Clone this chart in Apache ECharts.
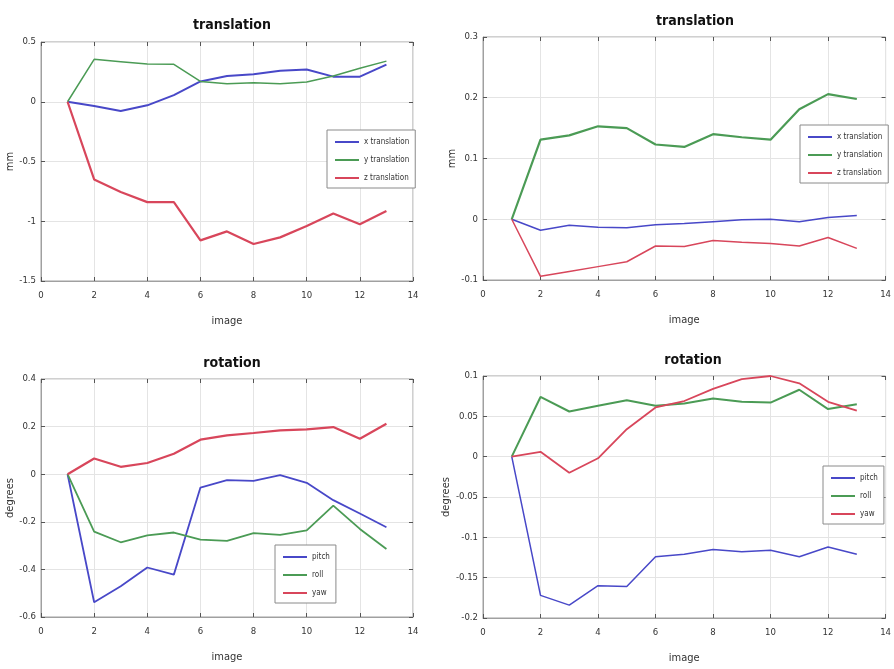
<!DOCTYPE html>
<html>
<head>
<meta charset="utf-8">
<script src="https://cdn.jsdelivr.net/npm/echarts@6/dist/echarts.min.js"></script>
<style>html,body{margin:0;padding:0;background:#fff;}#c{width:894px;height:669px;}</style>
</head>
<body>
<div id="c"></div>
<script>
const images = [1,2,3,4,5,6,7,8,9,10,11,12,13];
const xTicks = [0,2,4,6,8,10,12,14];

// Panel A (top-left): translation
const transA_x = [0,-0.036,-0.078,-0.03,0.056,0.17,0.215,0.23,0.26,0.27,0.21,0.21,0.31];
const transA_y = [0,0.355,0.335,0.315,0.313,0.17,0.15,0.16,0.15,0.165,0.215,0.28,0.34];
const transA_z = [0,-0.65,-0.755,-0.84,-0.84,-1.16,-1.085,-1.19,-1.135,-1.04,-0.935,-1.025,-0.915];

// Panel B (top-right): translation
const transB_x = [0,-0.018,-0.010,-0.013,-0.014,-0.009,-0.007,-0.004,-0.001,0,-0.004,0.003,0.006];
const transB_y = [0,0.131,0.138,0.153,0.150,0.123,0.119,0.140,0.135,0.131,0.181,0.206,0.198];
const transB_z = [0,-0.094,-0.086,-0.078,-0.070,-0.044,-0.045,-0.035,-0.038,-0.040,-0.044,-0.030,-0.048];

// Panel C (bottom-left): rotation
const rotC_pitch = [0,-0.538,-0.471,-0.392,-0.422,-0.056,-0.025,-0.028,-0.004,-0.036,-0.109,-0.165,-0.223];
const rotC_roll  = [0,-0.241,-0.286,-0.257,-0.245,-0.275,-0.28,-0.248,-0.255,-0.236,-0.132,-0.23,-0.314];
const rotC_yaw   = [0,0.066,0.031,0.047,0.086,0.145,0.163,0.173,0.184,0.188,0.198,0.149,0.212];

// Panel D (bottom-right): rotation
const rotD_pitch = [0,-0.172,-0.184,-0.160,-0.161,-0.124,-0.121,-0.115,-0.118,-0.116,-0.124,-0.112,-0.121];
const rotD_roll  = [0,0.074,0.056,0.063,0.070,0.063,0.066,0.072,0.068,0.067,0.083,0.059,0.065];
const rotD_yaw   = [0,0.006,-0.020,-0.002,0.034,0.061,0.069,0.084,0.096,0.100,0.091,0.068,0.057];

const transNames = ['x translation','y translation','z translation'];
const rotNames = ['pitch','roll','yaw'];
const yRanges = [[-1.5,0.5,0.5],[-0.1,0.3,0.1],[-0.6,0.4,0.2],[-0.2,0.1,0.05]];
const yNames = ['mm','mm','degrees','degrees'];
const titles = ['translation','translation','rotation','rotation'];

const BLUE='#4848c8', GREEN='#4b9b55', RED='#d8465b';
const FONT = "'DejaVu Sans Condensed','Liberation Sans Narrow','Liberation Sans',sans-serif";

const grids = [
  {left:41, top:42, width:372, height:239},
  {left:483, top:37, width:410, height:243},
  {left:41, top:379, width:372, height:238},
  {left:483, top:376, width:410, height:242}
];
const titlePos = [{left:227,top:13},{left:690,top:9},{left:227,top:351},{left:688,top:348}];
const legendPos = [
  {left:327, top:130},
  {left:800, top:125},
  {left:275, top:545},
  {left:823, top:466}
];
const yNameGaps = [20,22,20,22];

const pair = arr => images.map((x,i)=>[x,arr[i]]);

const panels = [
  {names:transNames, data:[transA_x,transA_y,transA_z], widths:[2,1.5,2.2]},
  {names:transNames, data:[transB_x,transB_y,transB_z], widths:[1.5,2.2,1.5]},
  {names:rotNames, data:[rotC_pitch,rotC_roll,rotC_yaw], widths:[1.8,1.8,2.2]},
  {names:rotNames, data:[rotD_pitch,rotD_roll,rotD_yaw], widths:[1.5,2,1.8]}
];
const colors=[BLUE,GREEN,RED];

const option = {
  backgroundColor:'#fff',
  animation:false,
  title: titles.map((t,i)=>({text:t, left:titlePos[i].left, top:titlePos[i].top, textAlign:'center',
    textStyle:{fontFamily:FONT, fontSize:14, fontWeight:'bold', color:'#111'}})),
  grid: grids.map(g=>Object.assign({show:true, borderColor:'#a0a0a0', borderWidth:1, backgroundColor:'#fff', containLabel:false}, g)),
  xAxis: [],
  yAxis: [],
  legend: [],
  series: []
};

for (let i=0;i<4;i++){
  const [ymin,ymax,yint] = yRanges[i];
  option.xAxis.push({
    type:'value', gridIndex:i, min:0, max:14, interval:2,
    name:'image', nameLocation:'middle', nameGap:35,
    nameTextStyle:{fontFamily:FONT, fontSize:11, color:'#333'},
    axisLine:{show:true, onZero:false, lineStyle:{color:'#a0a0a0'}},
    axisTick:{show:true, inside:true, length:4, lineStyle:{color:'#555'}},
    axisLabel:{fontFamily:FONT, fontSize:9.5, color:'#333', margin:10},
    splitLine:{show:true, lineStyle:{color:'#e4e4e4', width:1}}
  });
  option.xAxis.push({
    type:'value', gridIndex:i, min:0, max:14, interval:2, position:'top',
    axisLine:{show:false, onZero:false}, axisTick:{show:true, inside:true, length:4, lineStyle:{color:'#555'}},
    axisLabel:{show:false}, splitLine:{show:false}
  });
  option.yAxis.push({
    type:'value', gridIndex:i, min:ymin, max:ymax, interval:yint,
    name:yNames[i], nameLocation:'middle', nameGap:yNameGaps[i], nameRotate:90,
    nameTextStyle:{fontFamily:FONT, fontSize:11, color:'#333'},
    axisLine:{show:true, onZero:false, lineStyle:{color:'#a0a0a0'}},
    axisTick:{show:true, inside:true, length:4, lineStyle:{color:'#555'}},
    axisLabel:{fontFamily:FONT, fontSize:9.5, color:'#333', margin:5},
    splitLine:{show:true, lineStyle:{color:'#e4e4e4', width:1}}
  });
  option.yAxis.push({
    type:'value', gridIndex:i, min:ymin, max:ymax, interval:yint, position:'right',
    axisLine:{show:false, onZero:false}, axisTick:{show:true, inside:true, length:4, lineStyle:{color:'#555'}},
    axisLabel:{show:false}, splitLine:{show:false}
  });
  const p = panels[i];
  option.legend.push({
    data:p.names, orient:'vertical', left:legendPos[i].left, top:legendPos[i].top,
    backgroundColor:'#fff', borderColor:'#8a8a8a', borderWidth:1, padding:[8,6,6,8],
    itemGap:10, itemWidth:24, itemHeight:2, icon:'rect',
    textStyle:{fontFamily:FONT, fontSize:8, color:'#333'}, selectedMode:false
  });
  for (let k=0;k<3;k++){
    option.series.push({
      type:'line', name:p.names[k], xAxisIndex:2*i, yAxisIndex:2*i,
      data:pair(p.data[k]), showSymbol:false, symbol:'none',
      lineStyle:{color:colors[k], width:p.widths[k]}, itemStyle:{color:colors[k]},
      z: 3
    });
  }
}

const chart = echarts.init(document.getElementById('c'), null, {renderer:'canvas'});
chart.setOption(option);
</script>
</body>
</html>
